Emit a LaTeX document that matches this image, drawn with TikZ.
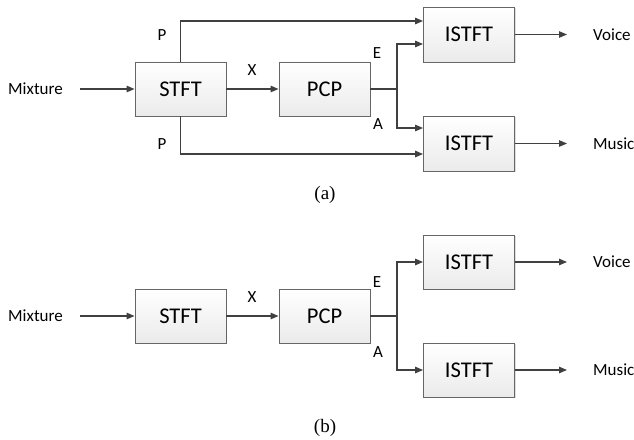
\documentclass[tikz,border=0pt]{standalone}
\usepackage{fontspec}
\setmainfont{Carlito}
\newfontfamily\capfont{Liberation Serif}
\usetikzlibrary{arrows.meta,shadows}
\definecolor{lnc}{HTML}{404040}
\definecolor{bdc}{HTML}{666666}
\tikzset{
  blk/.style={draw=bdc,line width=0.9pt,top color=white,bottom color=gray!16,
    minimum width=91pt,minimum height=54pt,inner sep=0pt,font=\fontsize{22.5}{26}\selectfont,
    drop shadow={shadow xshift=1.2pt,shadow yshift=-1.2pt,opacity=0.25,fill=gray}},
  lbl/.style={inner sep=0pt,font=\fontsize{17}{20}\selectfont},
  figcap/.style={inner sep=0pt,font=\capfont\fontsize{19}{22}\selectfont},
  arr/.style={draw=lnc,line width=1.2pt,-{Triangle[length=8pt,width=6.5pt]}},
  ln/.style={draw=lnc,line width=1.2pt}
}
\begin{document}
\begin{tikzpicture}[x=1pt,y=-1pt]
\useasboundingbox (0,0) rectangle (634,439);
% ---------- (a) ----------
\node[blk] (stfta) at (180.5,89) {STFT};
\node[blk] (pcpa) at (324.5,89) {PCP};
\node[blk,minimum height=55pt] (ista1) at (469,34.5) {ISTFT};
\node[blk,minimum height=55pt] (ista2) at (469,143.5) {ISTFT};
\node[lbl,anchor=west] (mixa) at (8,89) {Mixture};
\node[lbl,anchor=west] (voicea) at (593,34.5) {Voice};
\node[lbl,anchor=west] (musica) at (593,143.5) {Music};
\node[lbl] (pa1) at (162,35) {P};
\node[lbl] (pa2) at (162,144) {P};
\node[lbl] (xa) at (252,70) {X};
\node[lbl] (ea) at (377,53) {E};
\node[lbl] (aa) at (378,124) {A};
\coordinate (ja) at (397,89);
\draw[arr] ([xshift=17pt]mixa.east) -- (stfta.west);
\draw[arr] (stfta.east) -- (pcpa.west);
\draw[arr] (stfta.north) |- ([yshift=13.5pt]ista1.west);
\draw[arr] (stfta.south) |- ([yshift=-10.5pt]ista2.west);
\draw[ln] (pcpa.east) -- (ja);
\draw[arr] (ja) |- ([yshift=-9.5pt]ista1.west);
\draw[arr] (ja) |- ([yshift=15.5pt]ista2.west);
\draw[arr] (ista1.east) -- ([xshift=-26pt]voicea.west);
\draw[arr] (ista2.east) -- ([xshift=-26pt]musica.west);
\node[figcap] (capa) at (325,195) {(a)};
% ---------- (b) ----------
\node[blk] (stftb) at (180.5,316) {STFT};
\node[blk] (pcpb) at (324.5,316) {PCP};
\node[blk] (istb1) at (469,262) {ISTFT};
\node[blk] (istb2) at (469,370) {ISTFT};
\node[lbl,anchor=west] (mixb) at (8,316) {Mixture};
\node[lbl,anchor=west] (voiceb) at (593,262) {Voice};
\node[lbl,anchor=west] (musicb) at (593,370) {Music};
\node[lbl] (xb) at (252,297) {X};
\node[lbl] (eb) at (377,282) {E};
\node[lbl] (ab) at (378,352) {A};
\coordinate (jb) at (397,316);
\draw[arr] ([xshift=17pt]mixb.east) -- (stftb.west);
\draw[arr] (stftb.east) -- (pcpb.west);
\draw[ln] (pcpb.east) -- (jb);
\draw[arr] (jb) |- (istb1.west);
\draw[arr] (jb) |- (istb2.west);
\draw[arr] (istb1.east) -- ([xshift=-26pt]voiceb.west);
\draw[arr] (istb2.east) -- ([xshift=-26pt]musicb.west);
\node[figcap] (capb) at (325,428) {(b)};
\end{tikzpicture}
\end{document}
